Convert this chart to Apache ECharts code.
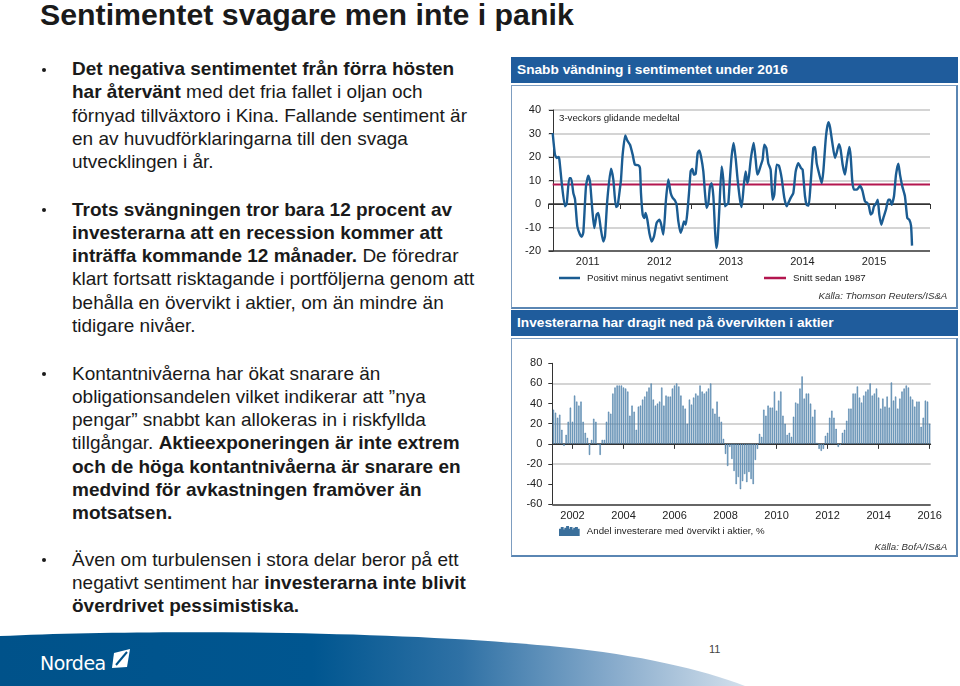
<!DOCTYPE html>
<html><head><meta charset="utf-8">
<script src="https://cdn.jsdelivr.net/npm/echarts@6.0.0/dist/echarts.min.js"></script>
<style>
html,body{margin:0;padding:0;background:#fff;}
#page{position:relative;width:960px;height:686px;overflow:hidden;font-family:'Liberation Sans',Arial,sans-serif;color:#1a1a1a;}
.title{position:absolute;left:40px;top:0px;font-size:30.3px;font-weight:bold;line-height:30px;white-space:nowrap;color:#1a1a1a;}
.dot{position:absolute;left:42px;width:4px;height:4px;border-radius:50%;background:#1a1a1a;}
.txt{position:absolute;left:72px;font-size:19px;line-height:23.3px;white-space:nowrap;}
.hdr{position:absolute;left:511px;width:447px;height:26px;background:#1f5c9c;color:#fff;font-weight:bold;font-size:13.7px;line-height:26px;padding-left:6px;box-sizing:border-box;white-space:nowrap;}
.box{position:absolute;left:511px;width:447px;border:1px solid #7d9dc0;border-right:2px solid #5a86b3;border-bottom:2px solid #5a86b3;box-sizing:border-box;}
#chart{position:absolute;left:0;top:0;width:960px;height:686px;}
#footer{position:absolute;left:0;top:620px;width:960px;height:66px;}
.pnum{position:absolute;left:709px;top:643px;font-size:11px;color:#444;}
.logo{position:absolute;left:40px;top:652px;font-family:'DejaVu Sans',sans-serif;font-size:19px;color:#fff;letter-spacing:-0.5px;}
</style></head>
<body>
<div id="page">
  <div class="title">Sentimentet svagare men inte i panik</div>

  <div class="dot" style="top:68px"></div>
  <div class="txt" style="top:57px"><b>Det negativa sentimentet från förra hösten</b><br><b>har återvänt</b> med det fria fallet i oljan och<br>förnyad tillväxtoro i Kina. Fallande sentiment är<br>en av huvudförklaringarna till den svaga<br>utvecklingen i år.</div>

  <div class="dot" style="top:208px"></div>
  <div class="txt" style="top:197.5px"><b>Trots svängningen tror bara 12 procent av</b><br><b>investerarna att en recession kommer att</b><br><b>inträffa kommande 12 månader.</b> De föredrar<br>klart fortsatt risktagande i portföljerna genom att<br>behålla en övervikt i aktier, om än mindre än<br>tidigare nivåer.</div>

  <div class="dot" style="top:372px"></div>
  <div class="txt" style="top:361.5px">Kontantnivåerna har ökat snarare än<br>obligationsandelen vilket indikerar att ”nya<br>pengar” snabbt kan allokeras in i riskfyllda<br>tillgångar. <b>Aktieexponeringen är inte extrem</b><br><b>och de höga kontantnivåerna är snarare en</b><br><b>medvind för avkastningen framöver än</b><br><b>motsatsen.</b></div>

  <div class="dot" style="top:558px"></div>
  <div class="txt" style="top:547.5px">Även om turbulensen i stora delar beror på ett<br>negativt sentiment har <b>investerarna inte blivit</b><br><b>överdrivet pessimistiska.</b></div>

  <div class="hdr" style="top:57px">Snabb vändning i sentimentet under 2016</div>
  <div class="box" style="top:85px;height:224px"></div>
  <div class="hdr" style="top:310px">Investerarna har dragit ned på övervikten i aktier</div>
  <div class="box" style="top:338px;height:219px"></div>

  <svg id="footer" width="960" height="66" viewBox="0 620 960 66">
    <defs>
      <linearGradient id="fg" x1="0" y1="0" x2="1" y2="0">
        <stop offset="0" stop-color="#00528a"/>
        <stop offset="0.42" stop-color="#005690"/>
        <stop offset="0.62" stop-color="#2f71a5"/>
        <stop offset="0.82" stop-color="#86aacb"/>
        <stop offset="1" stop-color="#d3e0ec"/>
      </linearGradient>
    </defs>
    <path d="M0,636 C150,629 400,631 560,647 C640,655 700,669 745,686 L0,686 Z" fill="url(#fg)"/>
    <path d="M114,653 L130,649 L127,667 L112,668 Z" fill="#fff"/>
    <path d="M116,665 L127,652" stroke="#00528a" stroke-width="2"/>
  </svg>
  <div class="logo">Nordea</div>
  <div class="pnum">11</div>

  <div id="chart"></div>
</div>
<script>
// ---------- Chart 1: sentiment (3-week moving average) ----------
const sentYears = [
2011.06,2011.092,2011.116,2011.139,2011.153,2011.186,2011.232,2011.255,2011.292,2011.316,
2011.348,2011.372,2011.404,2011.441,2011.465,2011.488,2011.525,2011.558,2011.581,2011.613,
2011.641,2011.674,2011.697,2011.730,2011.767,2011.790,2011.823,2011.874,2011.907,2011.944,
2011.967,2012.000,2012.014,2012.037,2012.074,2012.102,2012.140,2012.177,2012.209,2012.256,
2012.279,2012.293,2012.317,2012.340,2012.358,2012.382,2012.410,2012.442,2012.475,2012.512,
2012.549,2012.573,2012.605,2012.642,2012.675,2012.708,2012.736,2012.768,2012.791,2012.815,
2012.847,2012.871,2012.894,2012.917,2012.940,2012.964,2012.987,2013.010,2013.033,2013.057,
2013.085,2013.108,2013.131,2013.164,2013.187,2013.210,2013.234,2013.257,2013.280,2013.304,
2013.327,2013.345,2013.364,2013.387,2013.420,2013.443,2013.466,2013.490,2013.513,2013.536,
2013.559,2013.587,2013.615,2013.643,2013.676,2013.699,2013.732,2013.755,2013.778,2013.801,
2013.829,2013.867,2013.895,2013.918,2013.941,2013.969,2013.992,2014.016,2014.044,2014.071,
2014.104,2014.132,2014.155,2014.188,2014.220,2014.258,2014.295,2014.328,2014.351,2014.384,
2014.421,2014.454,2014.491,2014.528,2014.551,2014.584,2014.607,2014.635,2014.663,2014.700,
2014.724,2014.747,2014.779,2014.817,2014.840,2014.877,2014.910,2014.933,2014.966,2015.003,
2015.026,2015.059,2015.082,2015.110,2015.142,2015.166,2015.203,2015.222,2015.245,2015.268,
2015.305,2015.329,2015.352,2015.385,2015.422,2015.454,2015.478,2015.501,2015.524,2015.547,
2015.575,2015.599,2015.622,2015.650,2015.678,2015.715,2015.748,2015.771,2015.794,2015.827,
2015.855,2015.888,2015.911,2015.943,2015.980,2016.013,2016.041,2016.065,2016.079
];
const sentValues = [
30.2,21,19.6,20,19,9,-1,0,11,11,
4.7,2,-9.5,-13,-14,-12,7.5,12,9.6,-2.4,
-10.2,-4.5,-3.8,-10.2,-16,-13.8,1.8,15,10.4,-1.3,
-0.7,6.8,10.4,21,29.2,27,25.2,21,16.7,16.5,
15.3,4.7,-4.5,-6,-3.8,-6.7,-12.3,-16,-13.8,-8,
-6.7,-8.4,-13,1.8,10.4,4.7,2.6,1.5,-0.5,-7.4,
-12.3,-10.2,-7.4,-8.8,-3.8,4.7,13.9,14.9,12.5,12.9,
21.7,22.8,20.3,13.9,4.7,-1.7,0.4,7.5,8.9,3.3,
-10.9,-18.7,-15.2,-2.4,16,10.4,-1,-0.3,0.4,11,
20.3,26,19.6,10.4,1.8,-1.3,8.9,13.9,8.9,11.8,
19.6,26,18.9,12.5,13.9,16.7,18.9,25.2,23.8,17.4,
14.6,1.8,4,16.7,16.3,11,2.6,-1,0.4,2.6,
4.7,13.9,17.4,15.3,14.6,3.3,-0.3,-0.7,8.9,23.8,
24.3,17.4,13.2,8.9,13.9,28.8,34.8,32.8,26,19.6,
21.7,25.5,23.1,16.7,12.5,17.4,24.3,20.3,9.6,6.1,
6.1,6.8,7.8,5.8,1.1,0.4,-1,-4.5,-3.8,-1,
0.1,1.8,-4.5,-8.8,-6,-2.4,1.8,1.8,-0.3,3.3,
12.5,17.2,12.5,7.5,3.3,-6,-6.7,-9.2,-17.7
];
const sentAverageSince1987 = 8.3;
const sentYearLabels = [2011, 2012, 2013, 2014, 2015];
const sentAxisMin = 2011, sentAxisMax = 2016.33;

// ---------- Chart 2: BofA share of investors overweight equities (monthly) ----------
const owFirstYear = 2001, owFirstMonth = 4;
const ow2001 = [34,31,26,29,14,-2,9,22,36];
const ow2002 = [22,48,42,38,42,22,11,6,-11,4,25,22];
const ow2003 = [-1,-11,4,4,22,32,30,50,56,58,58,58];
const ow2004 = [56,55,52,28,38,32,14,37,38,44,47,52];
const ow2005 = [56,60,44,38,40,42,56,38,48,47,47,55];
const ow2006 = [58,60,57,48,38,35,20,44,39,46,50,48];
const ow2007 = [58,52,50,52,55,60,35,30,42,27,22,5];
const ow2008 = [-10,-22,-3,-15,-27,-40,-33,-45,-37,-30,-38,-28];
const ow2009 = [-35,-40,-16,-5,10,7,34,28,38,36,36,52];
const ow2010 = [33,43,52,28,20,9,11,7,27,41,40,55];
const ow2011 = [67,45,50,50,40,27,34,1,-5,-7,-5,8];
const ow2012 = [11,26,33,26,15,-3,-1,11,14,23,35,35];
const ow2013 = [50,50,57,46,41,48,52,54,60,48,50,55];
const ow2014 = [46,35,45,37,47,36,61,43,47,35,45,52];
const ow2015 = [55,58,56,47,44,37,42,42,17,26,43,42];
const ow2016 = [20];
const overweightPct = [].concat(ow2001,ow2002,ow2003,ow2004,ow2005,ow2006,ow2007,ow2008,
  ow2009,ow2010,ow2011,ow2012,ow2013,ow2014,ow2015,ow2016);
const owMonths = overweightPct.map(function (_, i) {
  const m = owFirstMonth - 1 + i;
  const y = owFirstYear + Math.floor(m / 12);
  const mm = (m % 12) + 1;
  return y + '-' + (mm < 10 ? '0' + mm : '' + mm);
});
const owLabelYears = [2002, 2004, 2006, 2008, 2010, 2012, 2014, 2016];

// ---------- build ----------
const FONT = "'Liberation Sans', Arial, sans-serif";
const SMALL = 9.7;
const sentData = sentYears.map(function (x, i) { return [x, sentValues[i]]; });
const avgData = [[sentYears[0], sentAverageSince1987], [sentAxisMax, sentAverageSince1987]];
const isLabelMonth = function (index, value) {
  return value.slice(5) === '01' && owLabelYears.indexOf(+value.slice(0, 4)) >= 0;
};
const G = '#c6c6c6', D = '#333333', T = 'rgba(0,0,0,0)';

const chart = echarts.init(document.getElementById('chart'), null, {renderer: 'canvas'});
chart.setOption({
  animation: false,
  backgroundColor: 'transparent',
  textStyle: {fontFamily: FONT},
  title: [
    {text: '3-veckors glidande medeltal', left: 559, top: 113, padding: 0,
     textStyle: {fontSize: SMALL, fontWeight: 'normal', color: '#222', fontFamily: FONT}},
    {text: 'Källa: Thomson Reuters/IS&A', right: 12.7, top: 291, padding: 0,
     textStyle: {fontSize: SMALL, fontWeight: 'normal', fontStyle: 'italic', color: '#333', fontFamily: FONT}},
    {text: 'Källa: BofA/IS&A', right: 12.7, top: 542, padding: 0,
     textStyle: {fontSize: SMALL, fontWeight: 'normal', fontStyle: 'italic', color: '#333', fontFamily: FONT}}
  ],
  legend: [
    {data: ['Positivt minus negativt sentiment'], left: 559, top: 273, padding: 0,
     icon: 'rect', itemWidth: 21, itemHeight: 2.5,
     textStyle: {fontSize: SMALL, color: '#222', fontFamily: FONT, padding: [0, 0, 0, 2]}},
    {data: ['Snitt sedan 1987'], left: 764, top: 273, padding: 0,
     icon: 'rect', itemWidth: 22, itemHeight: 2.5,
     textStyle: {fontSize: SMALL, color: '#222', fontFamily: FONT, padding: [0, 0, 0, 2]}},
    {data: ['Andel investerare med övervikt i aktier, %'], left: 559, top: 526, padding: 0,
     icon: 'path://M0,4h1v6h-1z M2,2h1v8h-1z M4,5h1v5h-1z M6,3h1v7h-1z M8,1h1v9h-1z M10,4h1v6h-1z M12,2h1v8h-1z M14,5h1v5h-1z M16,3h1v7h-1z M18,2h1v8h-1z M20,4h1v6h-1z',
     itemWidth: 21, itemHeight: 8,
     textStyle: {fontSize: SMALL, color: '#222', fontFamily: FONT, padding: [0, 0, 0, 2]}}
  ],
  grid: [
    {left: 548.4, right: 30, top: 110, height: 141, containLabel: false},
    {left: 552.3, width: 378.4, top: 363.3, height: 141, containLabel: false}
  ],
  xAxis: [
    {gridIndex: 0, type: 'value', min: sentAxisMin, max: sentAxisMax, interval: 1,
     axisLine: {lineStyle: {color: D, width: 1}}, axisTick: {show: true, length: 5, lineStyle: {color: D}},
     axisLabel: {show: false}, splitLine: {show: false}},
    {gridIndex: 0, type: 'value', min: sentAxisMin, max: sentAxisMax, interval: 0.5, position: 'bottom',
     axisLine: {show: false}, axisTick: {show: false}, splitLine: {show: false},
     axisLabel: {fontSize: 11, color: '#222', margin: 5, padding: [0, 0, 0, 7], fontFamily: FONT,
       formatter: function (v) {
         const y = Math.floor(v + 1e-9);
         return (Math.abs(v - y - 0.5) < 1e-6 && sentYearLabels.indexOf(y) >= 0) ? String(y) : '';
       }}},
    {gridIndex: 1, type: 'category', data: owMonths, boundaryGap: true,
     axisLine: {lineStyle: {color: D, width: 1}},
     axisTick: {show: true, alignWithLabel: true, interval: isLabelMonth, length: 5, lineStyle: {color: D}},
     axisLabel: {interval: isLabelMonth, fontSize: 11, color: '#222', margin: 6, fontFamily: FONT,
       formatter: function (v) { return v.slice(0, 4); }},
     splitLine: {show: false}}
  ],
  yAxis: [
    {gridIndex: 0, type: 'value', min: -20, max: 40, interval: 10, offset: -4.6,
     axisLine: {show: true, lineStyle: {color: D}}, axisTick: {show: true, length: 4, lineStyle: {color: D}},
     axisLabel: {fontSize: 11, color: '#222', margin: 12, fontFamily: FONT},
     splitLine: {show: true, lineStyle: {color: [D, G, D, G, G, G, G], width: 1.5}}},
    {gridIndex: 1, type: 'value', min: -60, max: 80, interval: 20,
     axisLine: {show: true, lineStyle: {color: D}}, axisTick: {show: true, length: 4, lineStyle: {color: D}},
     axisLabel: {fontSize: 11, color: '#222', margin: 10, fontFamily: FONT},
     splitLine: {show: true, lineStyle: {color: [D, T, G, D, G, T, G, T], width: 1.5}}}
  ],
  series: [
    {name: 'Snitt sedan 1987', type: 'line', xAxisIndex: 0, yAxisIndex: 0, data: avgData,
     showSymbol: false, symbol: 'none', lineStyle: {color: '#b3164f', width: 2}, itemStyle: {color: '#b3164f'}, z: 2},
    {name: 'Positivt minus negativt sentiment', type: 'line', xAxisIndex: 0, yAxisIndex: 0, data: sentData,
     showSymbol: false, symbol: 'none', smooth: 0.2, lineStyle: {color: '#1b5c92', width: 2.4},
     itemStyle: {color: '#1b5c92'}, z: 3},
    {name: 'Andel investerare med övervikt i aktier, %', type: 'bar', xAxisIndex: 2, yAxisIndex: 1,
     data: overweightPct, barWidth: '62%',
     itemStyle: {color: '#8ab4d2', borderColor: '#3a6f9b', borderWidth: 0.5}, z: 3}
  ]
});
</script>
</body></html>
